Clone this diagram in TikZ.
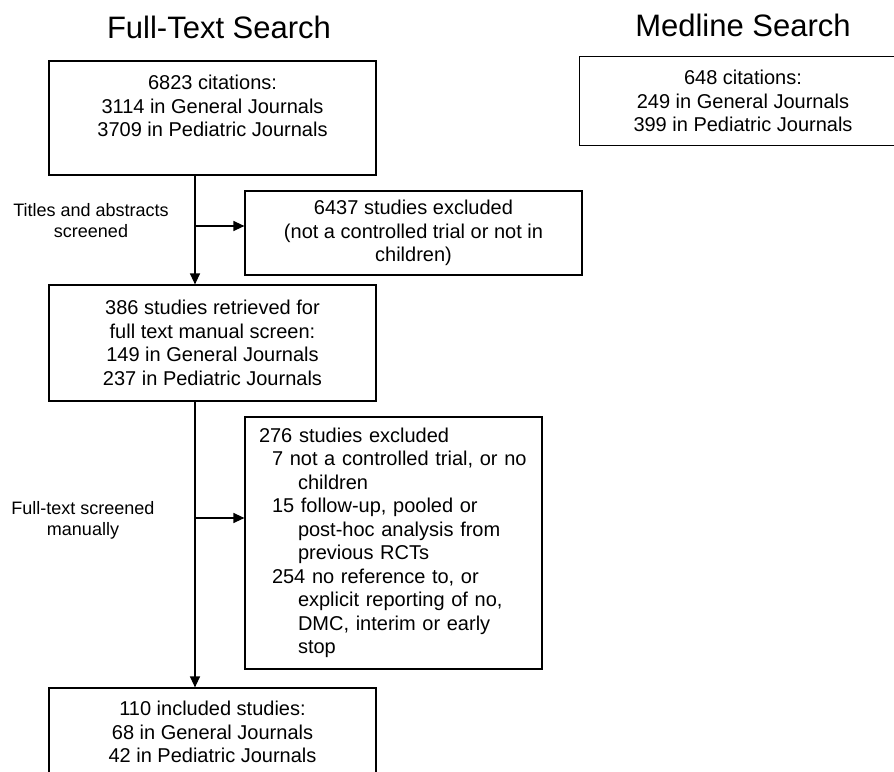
\documentclass[tikz,border=0pt]{standalone}
\usepackage{fontspec}
\setmainfont{Liberation Sans}
\usetikzlibrary{arrows.meta}

\newcommand{\boxfont}{\fontsize{20}{23.5}\selectfont}
\newcommand{\notefont}{\fontsize{18}{21}\selectfont}
\newcommand{\headfont}{\fontsize{31}{36}\selectfont}

\tikzset{
  flowbox/.style={draw, line width=1.2pt, align=center, font=\boxfont, inner sep=0pt},
  note/.style={align=center, font=\notefont},
  heading/.style={font=\headfont},
  flow/.style={line width=1.3pt, -{Triangle[length=11pt,width=10pt]}}
}

\begin{document}
\begin{tikzpicture}[x=1pt, y=-1pt]
      \useasboundingbox (0, 0) rectangle (894, 771);

      \node[heading] (fthead) at (219, 27) {Full-Text Search};
      \node[heading] (mlhead) at (743, 25) {Medline Search};

      \node[flowbox, minimum width=327pt, minimum height=114pt] (cites) at (212.5, 118)
        {6823 citations:\\ 3114 in General Journals\\ 3709 in Pediatric Journals\\ \mbox{}};
      \node[flowbox, minimum width=337pt, minimum height=84pt] (excl1) at (413.5, 233)
        {6437 studies excluded\\ (not a controlled trial or not in\\ children)};
      \node[flowbox, minimum width=327pt, minimum height=116pt] (retr) at (212.5, 343)
        {386 studies retrieved for\\ full text manual screen:\\ 149 in General Journals\\ 237 in Pediatric Journals};
      \node[flowbox, align=left, text width=269pt, inner xsep=14pt, minimum height=252pt] (excl2) at (393.5, 543)
        {276 studies excluded\\
         \hspace*{13pt}7 not a controlled trial, or no\\
         \hspace*{39pt}children\\
         \hspace*{13pt}15 follow-up, pooled or\\
         \hspace*{39pt}post-hoc analysis from\\
         \hspace*{39pt}previous RCTs\\
         \hspace*{13pt}254 no reference to, or\\
         \hspace*{39pt}explicit reporting of no,\\
         \hspace*{39pt}DMC, interim or early\\
         \hspace*{39pt}stop};
      \node[flowbox, minimum width=327pt, minimum height=88pt] (incl) at (212.5, 732)
        {110 included studies:\\ 68 in General Journals\\ 42 in Pediatric Journals};

      % medline box is cut off at the right edge
      \node[flowbox, draw=none, minimum width=326pt, minimum height=88pt] (medl) at (743, 101)
        {648 citations:\\ 249 in General Journals\\ 399 in Pediatric Journals};
      \draw[line width=1.2pt] (medl.north east) -- (medl.north west) -- (medl.south west) -- (medl.south east);

      \node[note] (screen1) at (91, 221) {Titles and abstracts\\ screened};
      \node[note] (screen2) at (83, 520) {Full-text screened\\ manually};

      % main spine and side branches
      \coordinate (spine) at (195, 0);
      \coordinate (fork1) at (195, 226);
      \coordinate (fork2) at (195, 518);
      \draw[flow] (cites.south -| spine) -- (retr.north -| spine);
      \draw[flow] (retr.south -| spine) -- (incl.north -| spine);
      \draw[flow] (fork1) -- (fork1 -| excl1.west);
      \draw[flow] (fork2) -- (fork2 -| excl2.west);
\end{tikzpicture}
\end{document}
